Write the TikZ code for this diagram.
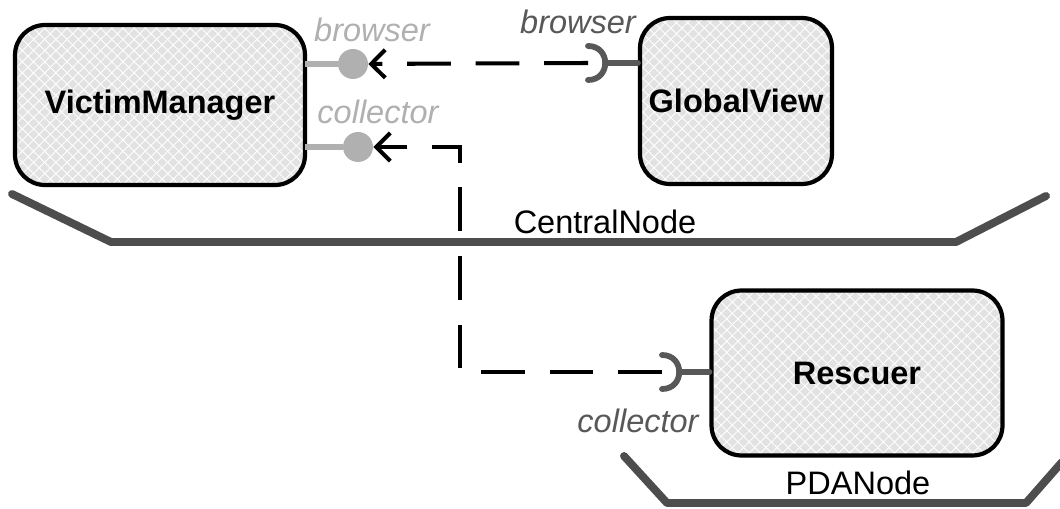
\documentclass[tikz,border=0pt]{standalone}
\usepackage{fontspec}
\setmainfont{Liberation Sans}
\usetikzlibrary{positioning,arrows.meta,patterns.meta}

\definecolor{portgray}{HTML}{B0B0B0}
\definecolor{sockgray}{HTML}{585858}
\definecolor{platgray}{HTML}{4D4D4D}
\definecolor{compfill}{HTML}{E2E2E2}

\begin{document}
\begin{tikzpicture}[
    x=0.02cm, y=-0.02cm,
    comp/.style={draw, line width=2.4pt, rounded corners=0.6cm, inner sep=0pt,
        preaction={fill=compfill},
        preaction={pattern={Lines[angle=45, distance=4.5pt, line width=0.5pt]}, pattern color=white},
        pattern={Lines[angle=-45, distance=4.5pt, line width=0.5pt]}, pattern color=white,
        font=\fontsize{18.5}{22}\selectfont\bfseries},
    ball/.style={circle, fill=portgray, minimum size=0.6cm, inner sep=0pt},
    portline/.style={draw=portgray, line width=3.3pt},
    socket/.style={draw=sockgray, line width=3.3pt, line cap=round},
    dep/.style={draw, line width=2.3pt, dash pattern=on 25pt off 14pt, -{Straight Barb[length=8pt, width=16pt, line width=2.3pt]}},
    platform/.style={draw=platgray, line width=4.5pt, line cap=round, line join=round},
    lbl/.style={font=\fontsize{18.5}{22}\selectfont\itshape, inner sep=0pt},
    plat/.style={font=\fontsize{18.5}{22}\selectfont, inner sep=0pt}
]
\useasboundingbox (0,0) rectangle (1060,509);

% Components
\node[comp, minimum width=5.8cm, minimum height=3.2cm] (vm) at (160,105) {VictimManager};
\node[comp, minimum width=3.84cm, minimum height=3.32cm] (gv) at (736,101) {GlobalView};
\node[comp, minimum width=5.82cm, minimum height=3.3cm] (rescuer) at (857,373) {Rescuer};

% Provided ports of VictimManager
\node[ball] (vmbrowser) at (353,64) {};
\node[ball] (vmcoll) at (358,147) {};
\draw[portline] (vmbrowser) -- (vmbrowser -| vm.east);
\draw[portline] (vmcoll) -- (vmcoll -| vm.east);
\node[lbl, text=portgray] (lbrowser) at (372,30) {browser};
\node[lbl, text=portgray] (lcoll) at (378,112) {collector};

% Required ports
\coordinate (gvsock) at (588,63);
\coordinate (rsock) at (662,372);
\draw[socket] (588,46) .. controls (611,46) and (611,80) .. (588,80);
\draw[socket] (605,63) -- (gvsock -| gv.west);
\draw[socket] (662,355) .. controls (685,355) and (685,389) .. (662,389);
\draw[socket] (679,372) -- (rsock -| rescuer.west);
\node[lbl, text=sockgray] (gbrowser) at (578,22) {browser};
\node[lbl, text=sockgray] (rcoll) at (638,421) {collector};

% Connectors
\coordinate (bendpt) at (460,147);
\draw[dep] (gvsock) -- (vmbrowser);
\draw[dep] (rsock) -| (bendpt) -- (vmcoll);

% Nodes
\draw[platform] (12,194) -- (111,242) -- (956,242) -- (1046,196);
\node[plat] (central) at (605,222) {CentralNode};
\draw[platform] (624,456) -- (667,503) -- (1026,503) -- (1062,462);
\node[plat] (pda) at (858,483) {PDANode};

\end{tikzpicture}
\end{document}
